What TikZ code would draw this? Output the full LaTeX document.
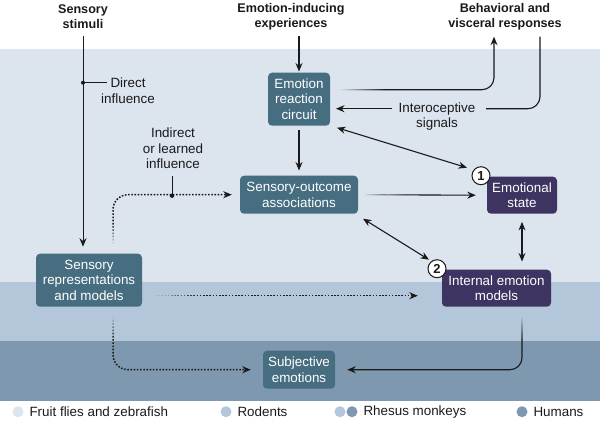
\documentclass[tikz,border=0pt]{standalone}
\usepackage{fontspec}
\setmainfont{Liberation Sans}
\usetikzlibrary{arrows.meta,fadings}
\definecolor{bandA}{HTML}{DCE4EE}
\definecolor{bandB}{HTML}{B4C6D9}
\definecolor{bandC}{HTML}{7E99AF}
\definecolor{tealbox}{HTML}{466E80}
\definecolor{purpbox}{HTML}{3D3461}
\definecolor{ink}{HTML}{1A1A1A}
\tikzfading[name=myfadeR, left color=transparent!0, right color=transparent!100]
\tikzfading[name=myfadeD, top color=transparent!0, bottom color=transparent!100]
\tikzfading[name=myfadeU, top color=transparent!100, bottom color=transparent!0]
\begin{document}
\begin{tikzpicture}[x=1pt,y=-1pt, font=\fontsize{13.4}{15.5}\selectfont, text=ink,
  box/.style={rounded corners=4pt, text=white, align=center, inner sep=0pt},
  tbox/.style={box, fill=tealbox},
  pbox/.style={box, fill=purpbox},
  tip/.style={-{Stealth[length=8.5pt,width=7pt]}},
  arr/.style={draw=ink, line width=1.1pt, tip},
  darr/.style={draw=ink, line width=1.1pt, {Stealth[length=8.5pt,width=7pt]}-{Stealth[length=8.5pt,width=7pt]}},
  dotarr/.style={draw=ink, line width=1.5pt, dash pattern=on 1.6pt off 1.6pt, tip},
  badge/.style={circle, draw=ink, fill=white, line width=1pt, inner sep=0pt, minimum size=18pt, font=\bfseries\fontsize{13}{13}\selectfont},
  lbl/.style={align=center},
  head/.style={align=center, font=\bfseries\fontsize{12.6}{15}\selectfont}]

% background bands
\fill[white] (0,0) rectangle (600,421);
\fill[bandA] (0,48) rectangle (600,281);
\fill[bandB] (0,281) rectangle (600,340);
\fill[bandC] (0,340) rectangle (600,400);

% headers
\node[head] (stim) at (83,16) {Sensory\\stimuli};
\node[head] (exp) at (291,16) {Emotion-inducing\\experiences};
\node[head] (beh) at (505,16) {Behavioral and\\visceral responses};

% boxes
\node[tbox, minimum width=62pt, minimum height=53pt] (erc) at (299,98.5) {Emotion\\reaction\\circuit};
\node[tbox, minimum width=118pt, minimum height=38pt] (soa) at (299,194) {Sensory-outcome\\associations};
\node[pbox, minimum width=70pt, minimum height=37pt] (est) at (522,194.5) {Emotional\\state};
\node[pbox, minimum width=109pt, minimum height=37pt] (iem) at (496.5,287.5) {Internal emotion\\models};
\node[tbox, minimum width=106pt, minimum height=53pt] (srm) at (89,279.5) {Sensory\\representations\\and models};
\node[tbox, minimum width=72pt, minimum height=38pt] (sub) at (299,369) {Subjective\\emotions};

% labels
\node[lbl] (dl) at (128,90) {Direct\\influence};
\node[lbl] (il) at (173,148) {Indirect\\or learned\\influence};
\node[lbl] (intero) at (437,116) {Interoceptive\\signals};

% badges
\node[badge] (b1) at (481,175) {1};
\node[badge] (b2) at (437,268) {2};

% coordinates
\coordinate (stimTop) at (83,35);
\coordinate (stimEnd) at (83,246);
\coordinate (dDot) at (83,82);
\coordinate (dEnd) at (107,82);
\coordinate (expTop) at (299,35);
\coordinate (ercR1) at (340,89);
\coordinate (behIn) at (494,36);
\coordinate (behOut) at (540,36);
\coordinate (intE) at (486,108);
\coordinate (intW) at (392,108);
\coordinate (ercIn) at (336,108);
\coordinate (ercSE) at (337,127);
\coordinate (estNW) at (467,167);
\coordinate (soaSE) at (363,218);
\coordinate (iemNW) at (429,259);
\coordinate (iemOut) at (522,316);
\coordinate (srmE) at (155,295);
\coordinate (srmS) at (113,316);
\coordinate (srmN) at (113,243);
\coordinate (iDot) at (172,195);
\coordinate (iTop) at (172,175);

% connectors
\draw[arr, line width=0.9pt] (stimTop) -- (stimEnd);
\fill[ink] (dDot) circle (2pt);
\draw[ink, line width=0.8pt] (dDot) -- (dEnd);
\draw[arr] (expTop) -- ([yshift=1pt]erc.north);
\draw[arr] ([yshift=-4pt]erc.south) -- ([yshift=5pt]soa.north);
\draw[arr, rounded corners=12pt] (ercR1) -| (behIn);
\draw[ink, line width=1.1pt, rounded corners=12pt] (behOut) |- (intE);
\draw[arr] (intW) -- (ercIn);
\draw[darr] (ercSE) -- (estNW);
\draw[arr] ([xshift=7pt]soa.east) -- ([xshift=-11pt]est.west);
\draw[darr] (soaSE) -- (iemNW);
\draw[darr] ([yshift=-8pt]est.south) -- ([yshift=8pt]est.south |- iem.north);
\draw[arr, rounded corners=12pt] (iemOut) |- ([xshift=12pt]sub.east);
\draw[dotarr] (srmE) -- ([xshift=-24pt]iem.west |- srmE);
\draw[dotarr, rounded corners=15pt] (srmS) |- ([xshift=-12pt]sub.west);
\draw[dotarr, rounded corners=15pt] (srmN) |- ([xshift=-8pt]soa.west);
\fill[ink] (iDot) circle (2.2pt);
\draw[ink, line width=0.8pt] (iDot) -- (iTop);

% fading starts of connectors
\fill[bandA, path fading=myfadeR] (339,86) rectangle (385,92);
\fill[bandA, path fading=myfadeR] (362,191) rectangle (405,197);
\fill[bandB, path fading=myfadeD] (519,315) rectangle (525,338);
\fill[bandB, path fading=myfadeR] (154,292) rectangle (200,298);
\fill[bandB, path fading=myfadeD] (110,315) rectangle (116,338);
\fill[bandA, path fading=myfadeU] (110,222) rectangle (116,244);

% legend
\fill[bandA] (18,411) circle (5.5pt);
\node[anchor=west] (lg1) at (26,411) {Fruit flies and zebrafish};
\fill[bandB] (226,411) circle (5.5pt);
\node[anchor=west] (lg2) at (234,411) {Rodents};
\fill[bandB] (340,411) circle (5.5pt);
\fill[bandC] (352,411) circle (5.5pt);
\node[anchor=west] (lg3) at (360,411) {Rhesus monkeys};
\fill[bandC] (522,411) circle (5.5pt);
\node[anchor=west] (lg4) at (530,411) {Humans};
\end{tikzpicture}
\end{document}
